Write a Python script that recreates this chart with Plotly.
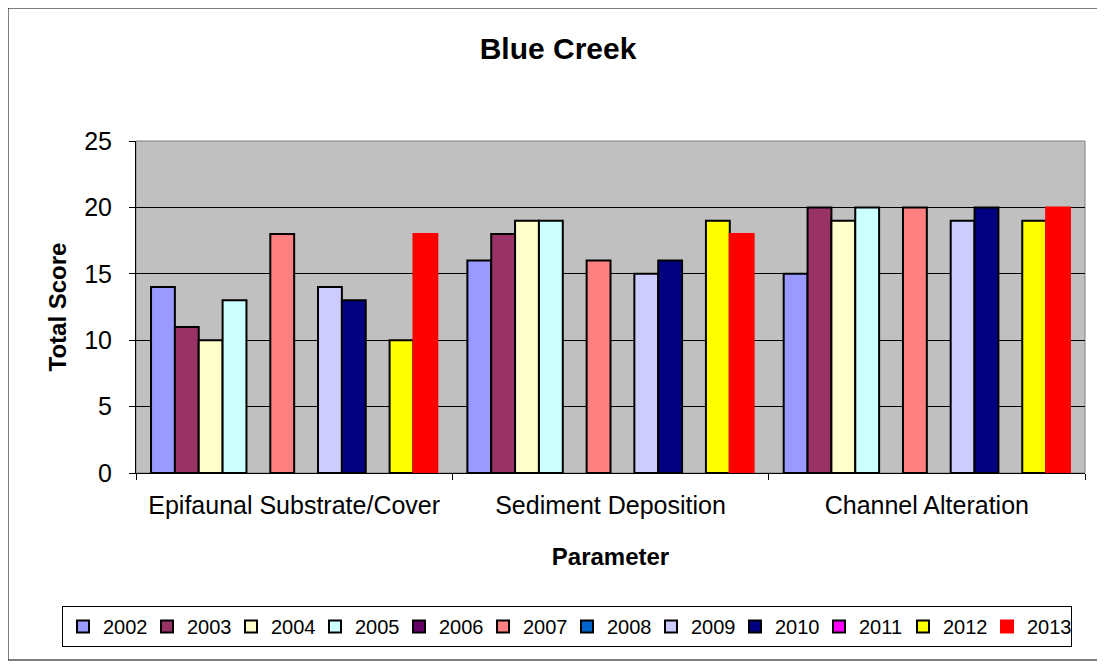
import plotly.graph_objects as go

categories = ["Epifaunal Substrate/Cover", "Sediment Deposition", "Channel Alteration"]
years = ["2002", "2003", "2004", "2005", "2006", "2007", "2008", "2009", "2010", "2011", "2012", "2013"]
v2002 = [14, 16, 15]
v2003 = [11, 18, 20]
v2004 = [10, 19, 19]
v2005 = [13, 19, 20]
v2006 = [None, None, None]
v2007 = [18, 16, 20]
v2008 = [None, None, None]
v2009 = [14, 15, 19]
v2010 = [13, 16, 20]
v2011 = [None, None, None]
v2012 = [10, 19, 19]
v2013 = [18, 18, 20]
series = [v2002, v2003, v2004, v2005, v2006, v2007, v2008, v2009, v2010, v2011, v2012, v2013]
colors = ["#9999FF", "#993366", "#FFFFCC", "#CCFFFF", "#660066", "#FF8080",
          "#0066CC", "#CCCCFF", "#000080", "#FF00FF", "#FFFF00", "#FF0000"]
line_colors = ["#000000"] * 11 + ["#FF0000"]

fig = go.Figure()
for y, vals, c, lc in zip(years, series, colors, line_colors):
    fig.add_trace(go.Bar(name=y, x=categories, y=vals, showlegend=True,
                         marker=dict(color=c, line=dict(color=lc, width=2))))

# page body has an 8px margin, so the figure is drawn 8px in from the window edge
OFF = 8
W, H = 1105 - OFF, 664 - OFF
L, R, T, B = 136 - OFF, 20, 141 - OFF, 664 - 473
pw, ph = W - L - R, H - T - B

def px(x):
    return (x - OFF - L) / pw

def py(y):
    return (H - B - (y - OFF)) / ph

fig.update_layout(
    width=W, height=H,
    margin=dict(l=L, r=R, t=T, b=B, autoexpand=False),
    paper_bgcolor="white",
    plot_bgcolor="#C0C0C0",
    barmode="group",
    bargap=0.095,
    bargroupgap=0,
    font=dict(family="Arial, Liberation Sans, sans-serif", color="black", size=20),
    title=dict(text="<b>Blue Creek</b>", x=(558 - OFF) / W, xref="container", xanchor="center",
               y=1 - (48 - OFF) / H, yref="container", yanchor="middle", font=dict(size=30)),
    legend=dict(orientation="h", x=px(62), xanchor="left", y=py(606), yanchor="top",
                bordercolor="black", borderwidth=1, font=dict(size=20),
                itemwidth=30, entrywidth=39, entrywidthmode="pixels",
                tracegroupgap=0, traceorder="normal"),
    showlegend=True,
)
fig.update_xaxes(
    showline=True, linecolor="black", linewidth=1,
    ticks="outside", ticklen=6, tickcolor="black", tickson="boundaries",
    ticklabelstandoff=10,
    title=dict(text="<b>Parameter</b>", standoff=30, font=dict(size=24)),
    tickfont=dict(size=25),
)
fig.update_yaxes(
    range=[0, 25], dtick=5, showline=True, linecolor="black", linewidth=1,
    ticks="outside", ticklen=6, tickcolor="black", ticklabelstandoff=12,
    showgrid=True, gridcolor="#000000", gridwidth=1,
    title=dict(text="<b>Total Score</b>", standoff=10, font=dict(size=24)),
    tickfont=dict(size=25), zeroline=False,
)
# plot area border (grey) and outer chart frame
fig.add_shape(type="rect", xref="paper", yref="paper", x0=0, x1=1, y0=0, y1=1,
              line=dict(color="#808080", width=1), layer="below")
fig.add_shape(type="rect", xref="paper", yref="paper",
              x0=px(OFF), x1=px(1100), y0=py(660), y1=py(OFF),
              line=dict(color="black", width=1))

fig.write_html("out.html")
